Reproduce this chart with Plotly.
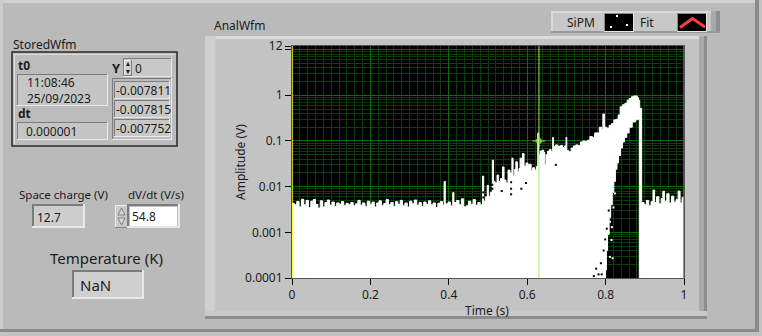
import plotly.graph_objects as go

# ---------------- data ----------------
# upper envelope of the dense SiPM waveform (time s, amplitude V)
up_t = [0.000, 0.006, 0.012, 0.018, 0.024, 0.030, 0.036, 0.042, 0.048, 0.054,
        0.060, 0.066, 0.072, 0.078, 0.084, 0.090, 0.096, 0.102, 0.108, 0.114,
        0.120, 0.126, 0.132, 0.138, 0.144, 0.150, 0.156, 0.162, 0.168, 0.174,
        0.180, 0.186, 0.192, 0.198, 0.204, 0.210, 0.216, 0.222, 0.228, 0.234,
        0.240, 0.246, 0.252, 0.258, 0.264, 0.270, 0.276, 0.282, 0.288, 0.294,
        0.300, 0.306, 0.312, 0.318, 0.324, 0.330, 0.336, 0.342, 0.348, 0.354,
        0.360, 0.366, 0.372, 0.378, 0.384, 0.388, 0.391, 0.398, 0.404, 0.410,
        0.413, 0.420, 0.426, 0.432, 0.438, 0.444, 0.450, 0.456, 0.462, 0.468,
        0.474, 0.480, 0.486, 0.489, 0.494, 0.498, 0.501, 0.506, 0.511, 0.514,
        0.518, 0.523, 0.527, 0.532, 0.537, 0.541, 0.546, 0.551, 0.556, 0.561,
        0.564, 0.568, 0.571, 0.575, 0.579, 0.582, 0.586, 0.588, 0.592, 0.597,
        0.602, 0.606, 0.610, 0.614, 0.619, 0.624, 0.627, 0.629, 0.633, 0.638,
        0.642, 0.645, 0.648, 0.652, 0.657, 0.661, 0.665, 0.667, 0.672, 0.678,
        0.684, 0.690, 0.695, 0.699, 0.701, 0.706, 0.712, 0.718, 0.724, 0.730,
        0.736, 0.742, 0.748, 0.754, 0.760, 0.766, 0.772, 0.778, 0.784, 0.790,
        0.793, 0.797, 0.803, 0.809, 0.815, 0.821, 0.827, 0.832, 0.837, 0.843,
        0.849, 0.855, 0.860, 0.866, 0.872, 0.877, 0.881, 0.884, 0.887, 0.892,
        0.898, 0.904, 0.910, 0.916, 0.921, 0.925, 0.930, 0.936, 0.942, 0.946,
        0.950, 0.956, 0.962, 0.968, 0.974, 0.980, 0.985, 0.990, 0.995, 1.000]
up_v = [0.0043, 0.0040, 0.0047, 0.0036, 0.0053, 0.0040, 0.0050, 0.0035, 0.0048, 0.0052,
        0.0041, 0.0034, 0.0049, 0.0036, 0.0045, 0.0051, 0.0039, 0.0046, 0.0037, 0.0044,
        0.0041, 0.0047, 0.0038, 0.0043, 0.0040, 0.0045, 0.0038, 0.0042, 0.0050, 0.0039,
        0.0044, 0.0037, 0.0048, 0.0041, 0.0046, 0.0036, 0.0044, 0.0049, 0.0038, 0.0043,
        0.0052, 0.0040, 0.0045, 0.0037, 0.0047, 0.0041, 0.0050, 0.0038, 0.0044, 0.0036,
        0.0048, 0.0042, 0.0051, 0.0039, 0.0045, 0.0037, 0.0046, 0.0041, 0.0049, 0.0040,
        0.0044, 0.0035, 0.0043, 0.0047, 0.0039, 0.0130, 0.0042, 0.0046, 0.0038, 0.0074,
        0.0045, 0.0050, 0.0040, 0.0054, 0.0036, 0.0038, 0.0048, 0.0041, 0.0052, 0.0039,
        0.0045, 0.0040, 0.0170, 0.0048, 0.0060, 0.0107, 0.0062, 0.0075, 0.0380, 0.0130,
        0.0120, 0.0180, 0.0130, 0.0150, 0.0270, 0.0140, 0.0120, 0.0230, 0.0200, 0.0420,
        0.0170, 0.0240, 0.0350, 0.0210, 0.0250, 0.0420, 0.0300, 0.0530, 0.0280, 0.0330,
        0.0300, 0.0310, 0.0220, 0.0260, 0.0230, 0.0280, 0.1500, 0.0500, 0.0600, 0.0630,
        0.0560, 0.0300, 0.0500, 0.0600, 0.0650, 0.0580, 0.1200, 0.0750, 0.0820, 0.0760,
        0.0800, 0.0720, 0.0780, 0.1200, 0.0620, 0.0580, 0.0700, 0.0780, 0.0820, 0.0800,
        0.0950, 0.1000, 0.0980, 0.1040, 0.1250, 0.1200, 0.1500, 0.1500, 0.2000, 0.1800,
        0.3900, 0.2000, 0.1900, 0.2200, 0.2400, 0.2900, 0.3000, 0.3700, 0.5600, 0.6200,
        0.6600, 0.7800, 0.8500, 0.9300, 0.9700, 0.9600, 0.8800, 0.7800, 0.5200, 0.0045,
        0.0040, 0.0050, 0.0038, 0.0047, 0.0084, 0.0045, 0.0060, 0.0042, 0.0055, 0.0080,
        0.0048, 0.0070, 0.0044, 0.0062, 0.0046, 0.0052, 0.0080, 0.0044, 0.0058, 0.0048]

# lower envelope of the decay tail (right to left)
lo_t = [0.886, 0.882, 0.876, 0.868, 0.860, 0.854, 0.848, 0.843, 0.838, 0.833,
        0.829, 0.825, 0.821, 0.817, 0.813, 0.809, 0.805, 0.802]
lo_v = [0.30, 0.29, 0.26, 0.20, 0.15, 0.12, 0.095, 0.070, 0.048, 0.033,
        0.024, 0.013, 0.0075, 0.0040, 0.0021, 0.0009, 0.0004, 0.00015]

# isolated gaps (black specks inside the white trace)
gap_t = [0.488, 0.488, 0.511, 0.511, 0.535, 0.559, 0.559, 0.559,
         0.585, 0.597, 0.673,
         0.770, 0.782, 0.788, 0.776, 0.795, 0.790, 0.803, 0.799, 0.808]
gap_v = [0.0075, 0.0058, 0.0110, 0.0090, 0.0080, 0.0125, 0.0090, 0.0068,
         0.0090, 0.0120, 0.030,
         0.00011, 0.00012, 0.00021, 0.00016, 0.00040, 0.00012, 0.0012, 0.00070, 0.0030]
# isolated samples inside the dark tail region
dot_t = [0.811, 0.815, 0.807, 0.824, 0.811, 0.818, 0.820, 0.816]
dot_v = [0.00029, 0.00068, 0.0010, 0.0071, 0.0017, 0.00027, 0.0035, 0.0013]

cursor_t = [0.0, 0.63, 1.0]
cursor_col = ['#ffff00', '#9cf060', '#ff2a2a']
mark_t = [0.63]
mark_v = [0.1]

y_tickvals = [0.0001, 0.001, 0.01, 0.1, 1, 10, 12]
y_ticktext = ['0.0001', '0.001', '0.01', '0.1', '1', '', '12']
x_tickvals = [0, 0.2, 0.4, 0.6, 0.8, 1]
x_ticktext = ['0', '0.2', '0.4', '0.6', '0.8', '1']
y_minor = [k * 10.0 ** e for e in range(-4, 1) for k in range(2, 10)]

FLOOR = 1e-6
FONT = 'Noto Sans'
TXT = '#1c1c1c'

# ---------------- figure ----------------
L, R, T, B = 292, 684, 46, 278
W, H = R - L, B - T


def X(px):
    return (px - L) / W


def Y(py):
    return (B - py) / H


shapes = []
annos = []


def box(x0, y0, x1, y1, fill, line=None, lw=1, layer='below'):
    shapes.append(dict(type='rect', xref='paper', yref='paper',
                       x0=X(x0), x1=X(x1), y0=Y(y1), y1=Y(y0),
                       fillcolor=fill, layer=layer,
                       line=dict(width=lw if line else 0, color=line or 'rgba(0,0,0,0)')))


def bevel(x0, y0, x1, y1, fill, tl, br, w=1):
    box(x0, y0, x1, y1, fill)
    box(x0, y0, x1, y0 + w, tl)
    box(x0, y0, x0 + w, y1, tl)
    box(x0, y1 - w, x1, y1, br)
    box(x1 - w, y0, x1, y1, br)


def path(pts, fill=None, line=None, lw=1, closed=True, layer='below'):
    d = 'M ' + ' L '.join(f'{X(a):.5f},{Y(b):.5f}' for a, b in pts)
    if closed:
        d += ' Z'
    shapes.append(dict(type='path', xref='paper', yref='paper', path=d, layer=layer,
                       fillcolor=fill or 'rgba(0,0,0,0)',
                       line=dict(width=lw if line else 0, color=line or 'rgba(0,0,0,0)')))


def txt(px, py, s, size=12, anchor='left', bold=False, color=TXT, angle=0):
    annos.append(dict(xref='paper', yref='paper', x=X(px), y=Y(py), text=f'<b>{s}</b>' if bold else s,
                      showarrow=False, xanchor=anchor, yanchor='middle', textangle=angle,
                      font=dict(family=FONT, size=size, color=color), borderpad=0))


SUNK_D, SUNK_L = '#7c7c7c', '#e8e8e8'

# panel borders
box(0, 0, 762, 3, '#d2d2d2')
box(0, 0, 3, 336, '#cdcdcd')
box(755, 0, 759, 332, '#8a8a8a')
box(0, 329, 759, 332, '#8a8a8a')
box(759, 0, 762, 336, '#c2c2c2')
box(0, 332, 762, 336, '#c2c2c2')

# graph frame
box(205, 36, 707, 319, '#c3c3c3')
box(205, 36, 707, 39, '#dcdcdc')
box(205, 36, 216, 319, '#d0d0d0')
box(214, 39, 216, 311, '#c9c9c9')
box(699, 36, 707, 319, '#a9a9a9')
box(704, 36, 707, 319, '#8c8c8c')
box(205, 311, 707, 319, '#c8c8c8')
box(205, 316, 707, 319, '#8c8c8c')
# plot area black
box(L, T, R, B, '#000000')

# legend box
box(551, 11, 720, 33, '#c7c7c7')
box(551, 11, 720, 13, '#dadada')
box(551, 11, 553, 33, '#dadada')
box(711, 11, 720, 33, '#a8a8a8')
box(716, 11, 720, 33, '#8e8e8e')
box(551, 31, 720, 33, '#999999')
bevel(604, 13, 634, 32, '#000000', '#8a8a8a', '#e6e6e6')
box(616, 15, 618, 17, '#ffffff')
box(626, 24, 628, 26, '#ffffff')
box(610, 26, 612, 28, '#ffffff')
bevel(677, 13, 707, 32, '#000000', '#8a8a8a', '#e6e6e6')
path([(680, 27.5), (692.5, 18.5), (705, 27)], line='#ff3c3c', lw=3, closed=False)
txt(566, 22, 'SiPM', 12)
txt(639, 22, 'Fit', 12)

# StoredWfm cluster
box(12, 52, 177, 146, '#bcbcbc', line='#2a2a2a', lw=1.5)
box(14, 54, 175, 55, '#dedede')
box(14, 54, 15, 144, '#dedede')
bevel(17, 74, 108, 106, '#c5c5c5', SUNK_D, SUNK_L)
bevel(17, 122, 108, 140, '#c5c5c5', SUNK_D, SUNK_L)
bevel(112, 78, 172, 140, '#bcbcbc', SUNK_D, SUNK_L)
bevel(114, 81, 170, 99, '#c8c8c8', SUNK_D, SUNK_L)
bevel(114, 100, 170, 118, '#c8c8c8', SUNK_D, SUNK_L)
bevel(114, 119, 170, 137, '#c8c8c8', SUNK_D, SUNK_L)
bevel(123, 58, 172, 77, '#c8c8c8', SUNK_D, SUNK_L)
bevel(124, 60, 132, 76, '#d0d0d0', '#f0f0f0', '#808080')
path([(126, 66), (128, 62), (130, 66)], fill='#202020')
path([(126, 70), (128, 74), (130, 70)], fill='#202020')
txt(12, 44, 'StoredWfm', 12)
txt(17, 65, 't0', 12, bold=True)
txt(26, 82, '11:08:46', 12)
txt(26, 98, '25/09/2023', 12)
txt(17, 113, 'dt', 12, bold=True)
txt(25, 131, '0.000001', 12)
txt(111, 68, 'Y', 13, bold=True)
txt(134, 68, '0', 12)
txt(115, 90, '-0.007811', 12)
txt(115, 109, '-0.007815', 12)
txt(115, 128, '-0.007752', 12)

# scalar indicators
txt(18, 195, 'Space charge (V)', 11.5)
txt(127, 195, 'dV/dt (V/s)', 11.5)
bevel(32, 204, 85, 228, '#cdcdcd', SUNK_D, SUNK_L, w=2)
txt(36, 217, '12.7', 12)
bevel(115, 205, 128, 228, '#c8c8c8', '#eeeeee', '#858585')
path([(118, 215), (121.5, 208), (125, 215)], fill='#d8d8d8', line='#808080')
path([(118, 218), (121.5, 225), (125, 218)], fill='#d8d8d8', line='#808080')
bevel(127, 204, 180, 228, '#c0c0c0', SUNK_D, SUNK_L, w=2)
box(130, 207, 177, 226, '#ffffff')
txt(131, 216, '54.8', 12)
txt(49, 258, 'Temperature (K)', 15)
bevel(72, 270, 144, 299, '#cfcfcf', SUNK_D, SUNK_L, w=2)
txt(79, 285, 'NaN', 15)

# graph labels
txt(213, 25, 'AnalWfm', 12)
txt(240, 162, 'Amplitude (V)', 12, anchor='center', angle=-90)
txt(487, 310, 'Time (s)', 12, anchor='center')

# cursors (drawn above data)
for ct, cc in zip(cursor_t, cursor_col):
    shapes.append(dict(type='line', xref='x', yref='paper', x0=ct, x1=ct, y0=0, y1=1,
                       line=dict(color=cc, width=1.5 if ct in (0.0, 1.0) else 1), layer='above'))

# waveform polygon
poly_t = [0.0] + up_t + [up_t[-1], lo_t[0]] + lo_t + [lo_t[-1] - 0.002, 0.0]
poly_v = [FLOOR] + up_v + [FLOOR, FLOOR] + lo_v + [FLOOR, FLOOR]

fig = go.Figure()
fig.add_trace(go.Scatter(x=poly_t, y=poly_v, mode='lines', fill='toself', fillcolor='#ffffff',
                         line=dict(color='#ffffff', width=1, shape='hv'), hoverinfo='skip'))
fig.add_trace(go.Scatter(x=gap_t, y=gap_v, mode='markers',
                         marker=dict(symbol='square', size=2, color='#000000', line=dict(width=0))))
fig.add_trace(go.Scatter(x=dot_t, y=dot_v, mode='markers',
                         marker=dict(symbol='square', size=2, color='#ffffff', line=dict(width=0))))
fig.add_trace(go.Scatter(x=mark_t, y=mark_v, mode='markers',
                         marker=dict(symbol='cross-thin-open', size=9, color='#9cf060',
                                     line=dict(width=1, color='#9cf060'))))
fig.add_trace(go.Scatter(x=mark_t, y=mark_v, mode='markers',
                         marker=dict(symbol='square-open', size=4, color='#9cf060',
                                     line=dict(width=1, color='#9cf060'))))

MAJ, MIN = '#0f6a0f', '#0a3d0a'
fig.update_layout(
    width=762, height=336, margin=dict(l=L, r=762 - R, t=T, b=336 - B, pad=0),
    paper_bgcolor='#bababa', plot_bgcolor='#000000', showlegend=False,
    font=dict(family=FONT, size=12, color=TXT),
    shapes=shapes, annotations=annos,
    xaxis=dict(range=[0, 1], tickmode='array', tickvals=x_tickvals, ticktext=x_ticktext,
               ticks='outside', ticklen=6, tickcolor='#000000', tickwidth=1,
               showline=True, linecolor='#555555', linewidth=1, mirror=True,
               showgrid=True, gridcolor=MAJ, gridwidth=1, zeroline=False,
               minor=dict(dtick=0.02, tick0=0, showgrid=True, gridcolor=MIN, gridwidth=1, ticks=''),
               tickfont=dict(family=FONT, size=12, color=TXT), fixedrange=True),
    yaxis=dict(type='log', range=[-4, 1.0792], tickmode='array', tickvals=y_tickvals,
               ticktext=y_ticktext, ticks='outside', ticklen=6, tickcolor='#000000', tickwidth=1,
               showline=True, linecolor='#555555', linewidth=1, mirror=True,
               showgrid=True, gridcolor=MAJ, gridwidth=1, zeroline=False,
               minor=dict(tickmode='array', tickvals=y_minor, showgrid=True, gridcolor=MIN,
                          gridwidth=1, ticks=''),
               tickfont=dict(family=FONT, size=12, color=TXT), fixedrange=True),
)

fig.write_html('out.html')
